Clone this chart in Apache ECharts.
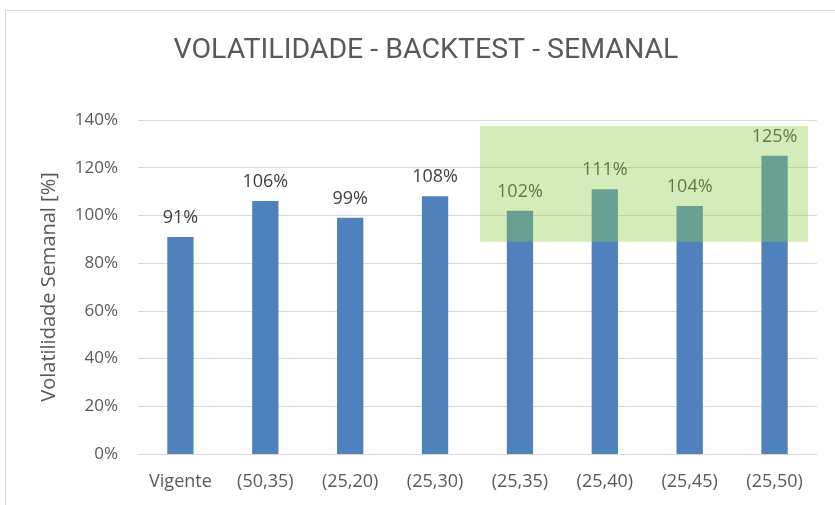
<!DOCTYPE html>
<html>
<head>
<meta charset="utf-8">
<script src="https://cdn.jsdelivr.net/npm/echarts@6/dist/echarts.min.js"></script>
<style>
  html, body { margin: 0; padding: 0; background: #fff; }
  #frame { position: absolute; left: 5px; top: 10px; width: 840px; height: 500px; border: 1px solid #d9d9d9; }
  #chart { position: absolute; left: 0; top: 0; width: 835px; height: 505px; }
</style>
</head>
<body>
<div id="frame"></div>
<div id="chart"></div>
<script>
// categorias e valores (%)
const categories = ['Vigente', '(50,35)', '(25,20)', '(25,30)', '(25,35)', '(25,40)', '(25,45)', '(25,50)'];
const values = [91, 106, 99, 108, 102, 111, 104, 125];
const yTicks = [0, 20, 40, 60, 80, 100, 120, 140];
// faixa destacada em verde (valores do eixo y)
const highlightRange = [89, 137.5];

const myChart = echarts.init(document.getElementById('chart'));
const txt = '#595959';
const font = 'Open Sans, sans-serif';
const option = {
  animation: false,
  title: {
    text: 'VOLATILIDADE - BACKTEST - SEMANAL',
    left: 421,
    textAlign: 'center',
    top: 31,
    textStyle: { fontFamily: 'Roboto, sans-serif', fontWeight: 'normal', fontSize: 28.5, color: txt }
  },
  grid: { left: 138, right: 18, top: 120, bottom: 51 },
  xAxis: {
    type: 'category',
    data: categories,
    axisLine: { lineStyle: { color: '#d9d9d9' } },
    axisTick: { show: false },
    axisLabel: { color: txt, fontSize: 18, fontFamily: font, margin: 19 }
  },
  yAxis: {
    type: 'value',
    min: yTicks[0],
    max: yTicks[yTicks.length - 1],
    interval: 20,
    name: 'Volatilidade Semanal [%]',
    nameLocation: 'middle',
    nameGap: 79,
    nameTextStyle: { color: txt, fontSize: 20, fontFamily: font },
    axisLabel: { color: txt, fontSize: 17, fontFamily: font, formatter: '{value}%', margin: 20 },
    splitLine: { lineStyle: { color: '#d9d9d9' } }
  },
  series: [
    {
      type: 'bar',
      data: values,
      barWidth: '31%',
      itemStyle: { color: '#4f81bd' },
      label: {
        show: true,
        position: 'top',
        distance: 10,
        color: '#404040',
        fontSize: 18,
        fontFamily: font,
        formatter: '{c}%'
      },
      markArea: {
        silent: true,
        z: 5,
        itemStyle: { color: 'rgba(146,208,80,0.4)' },
        data: [[
          { x: 480, yAxis: highlightRange[1] },
          { x: 808, yAxis: highlightRange[0] }
        ]]
      }
    }
  ]
};
myChart.setOption(option);
</script>
</body>
</html>
